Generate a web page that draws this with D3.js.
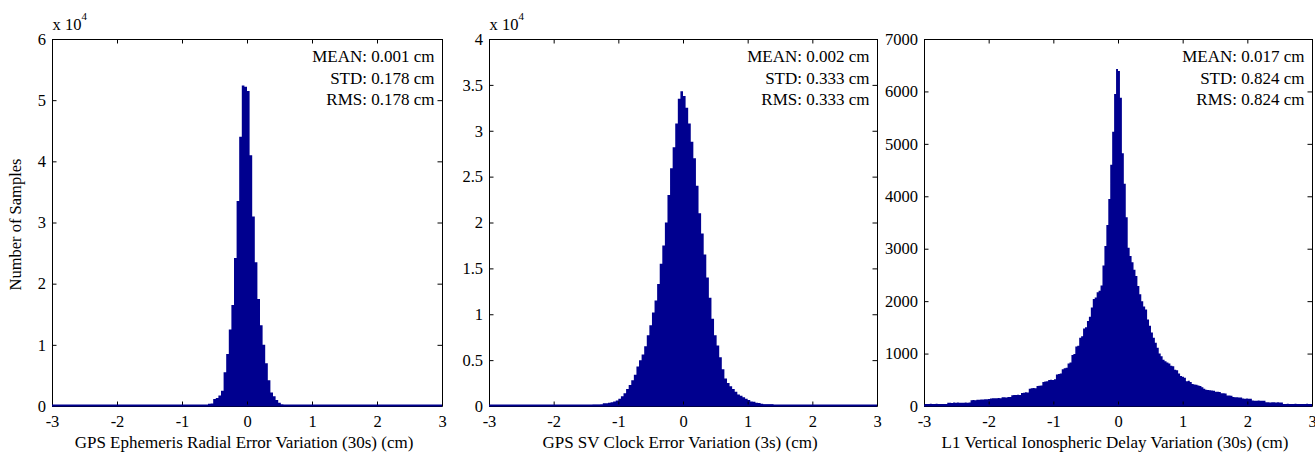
<!DOCTYPE html>
<html>
<head>
<meta charset="utf-8">
<script src="https://cdn.jsdelivr.net/npm/d3@7"></script>
<style>
  body { margin: 0; background: #fff; }
  svg text { font-family: "Liberation Serif", "Times New Roman", serif; fill: #000; }
</style>
</head>
<body>
<svg id="chart" width="1315" height="452"></svg>
<script>
// shared x axis
const xTickValues = [-3, -2, -1, 0, 1, 2, 3];
const xTickLabels = ['-3', '-2', '-1', '0', '1', '2', '3'];

// Panel 1: GPS ephemeris radial error variation
const ephemBinStart = -0.6;
const ephemBinWidth = 0.04;
const ephemCounts = [
    380, 400, 1150, 1300, 1700, 2500, 5500, 8500, 12500, 16500,
    24200, 33500, 44000, 52400, 52200, 51500, 41000, 31000, 23500, 17500,
    13200, 10000, 7000, 4200, 2200, 1600, 1000, 550, 250, 100
];
const ephemYTicks = [0, 10000, 20000, 30000, 40000, 50000, 60000];
const ephemYLabels = ['0', '1', '2', '3', '4', '5', '6'];
const ephemStats = ['MEAN: 0.001 cm', 'STD: 0.178 cm', 'RMS: 0.178 cm'];

// Panel 2: GPS SV clock error variation
const clockBinStart = -3;
const clockBinWidth = 0.04;
const clockCounts = [
    0, 0, 50, 50, 0, 40, 50, 50, 40, 50,
    50, 40, 0, 0, 0, 0, 0, 0, 0, 40,
    40, 40, 40, 40, 30, 50, 50, 50, 50, 50,
    50, 50, 50, 50, 50, 80, 90, 100, 110, 120,
    130, 135, 140, 150, 290, 290, 350, 400, 500, 600,
    800, 1050, 1400, 1850, 2300, 2800, 3400, 4300, 5000, 5600,
    6500, 7700, 8800, 10200, 11500, 13300, 15500, 17500, 20000, 23000,
    25900, 28200, 30800, 33500, 34300, 33800, 32500, 30800, 28800, 27000,
    24000, 21000, 18800, 16500, 14000, 11800, 9500, 7700, 6600, 5300,
    4000, 3000, 2500, 2150, 1850, 1550, 1250, 1120, 950, 780,
    650, 500, 450, 350, 320, 250, 200, 200, 190, 180,
    110, 100, 90, 80, 70, 60, 60, 50, 50, 0,
    0, 0, 40, 40, 0, 40, 40, 0, 40, 40,
    0, 40, 40, 40, 0, 40, 0, 0, 0, 0,
    0, 0, 0, 0, 0, 0, 0, 0, 0, 0
];
const clockYTicks = [0, 5000, 10000, 15000, 20000, 25000, 30000, 35000, 40000];
const clockYLabels = ['0', '0.5', '1', '1.5', '2', '2.5', '3', '3.5', '4'];
const clockStats = ['MEAN: 0.002 cm', 'STD: 0.333 cm', 'RMS: 0.333 cm'];

// Panel 3: L1 vertical ionospheric delay variation
const ionoBinStart = -3;
const ionoBinWidth = 0.03;
const ionoCounts = [
    38, 40, 37, 41, 39, 36, 42, 38, 40, 37,
    40, 38, 60, 64, 58, 66, 62, 65, 60, 64,
    62, 66, 60, 68, 110, 115, 112, 118, 120, 124,
    125, 130, 128, 135, 145, 148, 150, 146, 152, 148,
    165, 168, 162, 170, 172, 205, 210, 208, 215, 212,
    250, 255, 262, 258, 330, 338, 345, 340, 380, 385,
    390, 460, 466, 470, 495, 500, 497, 510, 600, 612,
    620, 700, 720, 730, 810, 830, 975, 990, 1135, 1150,
    1300, 1330, 1480, 1500, 1620, 1700, 1880, 2040, 2070, 2170,
    2200, 2300, 2680, 3050, 3450, 3950, 4600, 5230, 5950, 6430,
    6390, 5880, 4820, 4240, 3600, 3020, 2860, 2740, 2600, 2480,
    2290, 2130, 2000, 1900, 1840, 1650, 1530, 1400, 1300, 1205,
    1110, 1000, 950, 880, 855, 830, 810, 770, 760, 690,
    680, 620, 570, 560, 540, 470, 480, 460, 420, 410,
    405, 390, 383, 357, 330, 310, 306, 300, 295, 290,
    274, 270, 266, 242, 245, 238, 200, 198, 195, 170,
    166, 168, 164, 160, 145, 140, 142, 138, 136, 104,
    102, 100, 105, 98, 102, 100, 72, 70, 68, 72,
    70, 66, 70, 68, 66, 40, 38, 42, 36, 40,
    38, 41, 37, 39, 40, 36, 38, 42, 39, 37
];
const ionoYTicks = [0, 1000, 2000, 3000, 4000, 5000, 6000, 7000];
const ionoYLabels = ['0', '1000', '2000', '3000', '4000', '5000', '6000', '7000'];
const ionoStats = ['MEAN: 0.017 cm', 'STD: 0.824 cm', 'RMS: 0.824 cm'];

const barColor = '#00008f';
const tickFont = '16.5px';
const labelFont = '17px';
const statFont = '17px';
const plotTop = 39;
const plotBottom = 406;

const panels = [
    { left: 52, right: 442, start: ephemBinStart, width: ephemBinWidth, counts: ephemCounts,
      yMax: 60000, yTicks: ephemYTicks, yLabels: ephemYLabels, exponent: '4', stats: ephemStats,
      xLabel: 'GPS Ephemeris Radial Error Variation (30s) (cm)', yLabel: 'Number of Samples' },
    { left: 489, right: 877, start: clockBinStart, width: clockBinWidth, counts: clockCounts,
      yMax: 40000, yTicks: clockYTicks, yLabels: clockYLabels, exponent: '4', stats: clockStats,
      xLabel: 'GPS SV Clock Error Variation (3s) (cm)' },
    { left: 924, right: 1312, start: ionoBinStart, width: ionoBinWidth, counts: ionoCounts,
      yMax: 7000, yTicks: ionoYTicks, yLabels: ionoYLabels, stats: ionoStats,
      xLabel: 'L1 Vertical Ionospheric Delay Variation (30s) (cm)' }
];

const svg = d3.select('#chart');
svg.append('rect').attr('width', 1315).attr('height', 452).attr('fill', '#fff');

function styleAxis(ax) {
    ax.attr('font-family', null).attr('font-size', null);
    ax.selectAll('text').style('font-size', tickFont);
    ax.selectAll('line, path').attr('stroke', '#000').attr('stroke-width', 1);
}

panels.forEach((p, idx) => {
    const x = d3.scaleLinear().domain([-3, 3]).range([p.left, p.right]);
    const y = d3.scaleLinear().domain([0, p.yMax]).range([plotBottom, plotTop]);
    const g = svg.append('g');

    // clip to the axes box
    const clipId = 'clip' + idx;
    g.append('clipPath').attr('id', clipId)
        .append('rect')
        .attr('x', p.left).attr('y', plotTop)
        .attr('width', p.right - p.left).attr('height', plotBottom - plotTop);

    // histogram as a step area
    const bins = p.counts.map((c, i) => ({ x0: p.start + i * p.width, c: c }));
    bins.push({ x0: p.start + p.counts.length * p.width, c: 0 });
    const area = d3.area()
        .curve(d3.curveStepAfter)
        .x(d => x(d.x0))
        .y0(y(0))
        .y1(d => y(d.c));
    g.append('path')
        .datum(bins)
        .attr('d', area)
        .attr('fill', barColor)
        .attr('clip-path', `url(#${clipId})`);

    // axes box with inward ticks (Matlab style)
    g.append('g').attr('transform', `translate(0,${plotBottom})`)
        .call(d3.axisBottom(x).tickValues(xTickValues).tickFormat((d, i) => xTickLabels[i])
            .tickSizeInner(-4.5).tickSizeOuter(0).tickPadding(9))
        .call(styleAxis);
    g.append('g').attr('transform', `translate(0,${plotTop})`)
        .call(d3.axisTop(x).tickValues(xTickValues).tickFormat('')
            .tickSizeInner(-4.5).tickSizeOuter(0))
        .call(styleAxis);
    g.append('g').attr('transform', `translate(${p.left},0)`)
        .call(d3.axisLeft(y).tickValues(p.yTicks).tickFormat((d, i) => p.yLabels[i])
            .tickSizeInner(-4.5).tickSizeOuter(0).tickPadding(6))
        .call(styleAxis);
    g.append('g').attr('transform', `translate(${p.right},0)`)
        .call(d3.axisRight(y).tickValues(p.yTicks).tickFormat('')
            .tickSizeInner(-4.5).tickSizeOuter(0))
        .call(styleAxis);

    // zero-height bar edges along the bottom
    g.append('line')
        .attr('x1', x(-3)).attr('x2', x(3))
        .attr('y1', y(0) - 0.5).attr('y2', y(0) - 0.5)
        .attr('stroke', barColor)
        .attr('stroke-width', 2);

    // exponent
    if (p.exponent) {
        const t = g.append('text')
            .attr('x', p.left + 0.5).attr('y', 29.5)
            .style('font-size', tickFont)
            .text('x 10');
        t.append('tspan')
            .attr('dy', -10)
            .style('font-size', '11px')
            .text(p.exponent);
    }

    // statistics
    g.selectAll('.stat')
        .data(p.stats)
        .join('text')
        .attr('class', 'stat')
        .attr('x', p.right - 7.5)
        .attr('y', (d, i) => 62 + i * 21.5)
        .attr('text-anchor', 'end')
        .style('font-size', statFont)
        .text(d => d);

    // x label
    g.append('text')
        .attr('x', (p.left + p.right) / 2 - 3)
        .attr('y', 448)
        .attr('text-anchor', 'middle')
        .style('font-size', labelFont)
        .text(p.xLabel);

    if (p.yLabel) {
        g.append('text')
            .attr('transform', `translate(21,${(plotTop + plotBottom) / 2 + 2}) rotate(-90)`)
            .attr('text-anchor', 'middle')
            .style('font-size', '16.5px')
            .text(p.yLabel);
    }
});
</script>
</body>
</html>
